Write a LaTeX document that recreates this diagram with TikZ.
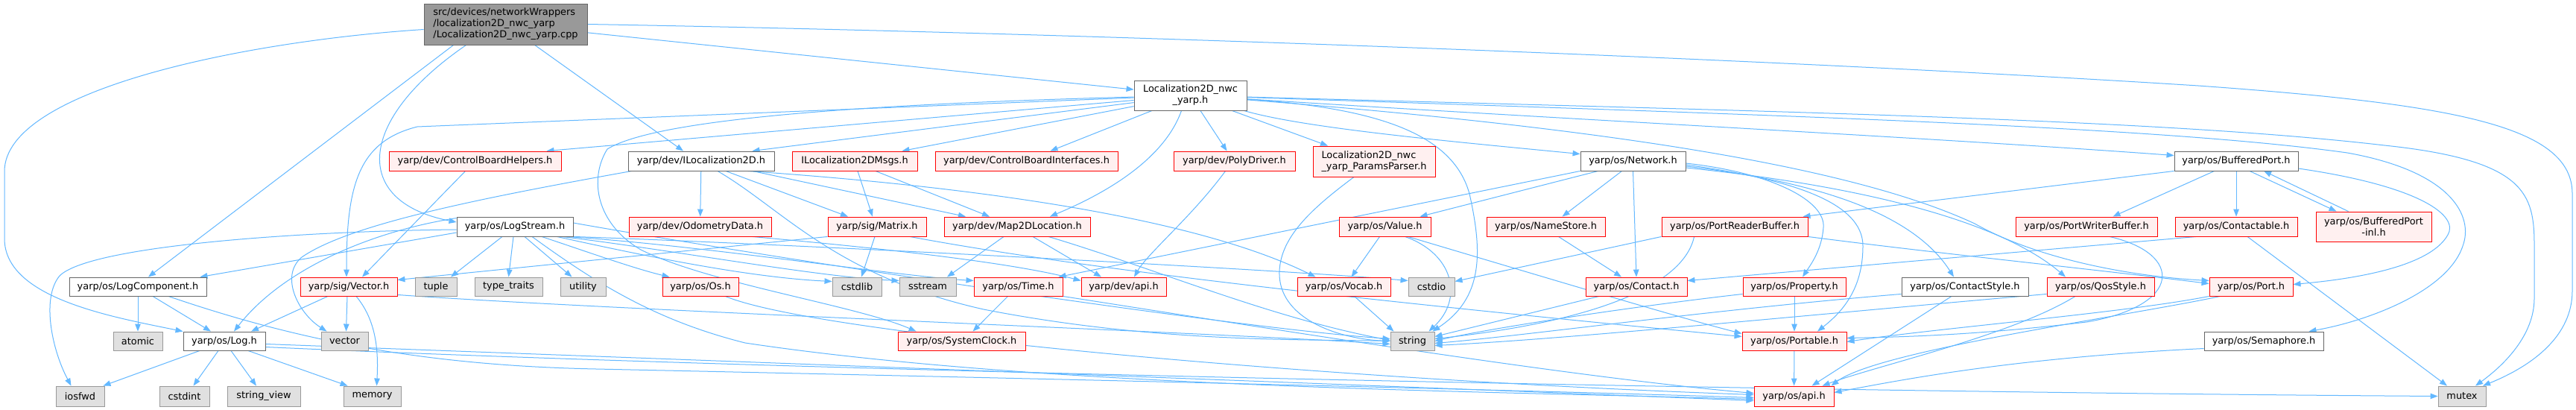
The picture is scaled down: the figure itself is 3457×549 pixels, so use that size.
\documentclass[tikz,border=0pt]{standalone}
\usepackage{fontspec}
\setmainfont{DejaVu Sans}
\usetikzlibrary{arrows.meta}
\definecolor{eb}{HTML}{63B8FF}
\definecolor{redfill}{HTML}{FFF0F0}
\definecolor{grayfill}{HTML}{E0E0E0}
\definecolor{graybd}{HTML}{999999}
\definecolor{darkbd}{HTML}{666666}
\definecolor{rootfill}{HTML}{999999}
\pgfdeclarelayer{back}
\pgfdeclarelayer{bg}
\pgfsetlayers{back,bg,main}
\newcommand{\bx}[7]{\node[#1,minimum width={#5pt-#4pt},minimum height={#7pt-#6pt}] (#2) at ({(#4+#5)/2},{(#6+#7)/2}) {#3};}
\begin{document}
\begin{tikzpicture}[x=1pt,y=-1pt,
 nb/.style={draw, inner sep=0pt, line width=0.9pt, font=\fontsize{12.9}{15}\selectfont, align=center, text=black},
 wn/.style={nb, fill=white, draw=darkbd},
 rn/.style={nb, fill=redfill, draw=red},
 gn/.style={nb, fill=grayfill, draw=graybd},
 rootn/.style={nb, fill=rootfill, draw=darkbd, align=left},
 edg/.style={draw=eb, line width=1pt, -{Triangle[length=10pt,width=7.5pt]}}]
\begin{pgfonlayer}{back}
\fill[white] (0,0) rectangle (3457,549);
\end{pgfonlayer}
\useasboundingbox (0,0) rectangle (3457,549);
% nodes
\bx{rootn}{src}{src/devices/networkWrappers\\/localization2D\_nwc\_yarp\\/Localization2D\_nwc\_yarp.cpp}{569}{788}{5}{60}
\bx{wn}{L2Dh}{Localization2D\_nwc\\\_yarp.h}{1522}{1673}{108}{148}
\bx{rn}{CBH}{yarp/dev/ControlBoardHelpers.h}{522}{753}{203}{229}
\bx{wn}{IL2D}{yarp/dev/ILocalization2D.h}{843}{1039}{203}{229}
\bx{rn}{IL2DMsgs}{ILocalization2DMsgs.h}{1063}{1231}{203}{229}
\bx{rn}{CBI}{yarp/dev/ControlBoardInterfaces.h}{1255}{1500}{203}{229}
\bx{rn}{Poly}{yarp/dev/PolyDriver.h}{1575}{1738}{203}{229}
\node[rn,align=left,minimum width=164pt,minimum height=41pt] (Params) at (1844,216.5) {Localization2D\_nwc\\\_yarp\_ParamsParser.h};
\bx{wn}{Network}{yarp/os/Network.h}{2121}{2262}{203}{229}
\bx{wn}{BufPort}{yarp/os/BufferedPort.h}{2918}{3084}{203}{229}
\bx{wn}{LogStream}{yarp/os/LogStream.h}{613}{769}{291}{317}
\bx{rn}{Odom}{yarp/dev/OdometryData.h}{844}{1035}{291}{317}
\bx{rn}{Matrix}{yarp/sig/Matrix.h}{1111}{1243}{291}{317}
\bx{rn}{Map2D}{yarp/dev/Map2DLocation.h}{1267}{1463}{291}{317}
\bx{rn}{Value}{yarp/os/Value.h}{1797}{1920}{291}{317}
\bx{rn}{NameStore}{yarp/os/NameStore.h}{1995}{2154}{291}{317}
\bx{rn}{PRB}{yarp/os/PortReaderBuffer.h}{2230}{2426}{291}{317}
\bx{rn}{PWB}{yarp/os/PortWriterBuffer.h}{2705}{2895}{291}{317}
\bx{rn}{Contactable}{yarp/os/Contactable.h}{2919}{3083}{291}{317}
\bx{rn}{BPinl}{yarp/os/BufferedPort\\-inl.h}{3108}{3263}{284}{324}
\bx{wn}{LogComp}{yarp/os/LogComponent.h}{93}{277}{372}{397}
\bx{rn}{Vector}{yarp/sig/Vector.h}{403}{533}{372}{397}
\bx{gn}{tuple}{tuple}{557}{613}{372}{397}
\bx{gn}{typetraits}{type\_traits}{637}{728}{372}{397}
\bx{gn}{utility}{utility}{752}{813}{372}{397}
\bx{rn}{Os}{yarp/os/Os.h}{889}{991}{372}{397}
\bx{gn}{cstdlib}{cstdlib}{1117}{1183}{372}{397}
\bx{gn}{sstream}{sstream}{1207}{1283}{372}{397}
\bx{rn}{Time}{yarp/os/Time.h}{1307}{1426}{372}{397}
\bx{rn}{devapi}{yarp/dev/api.h}{1451}{1565}{372}{397}
\bx{rn}{Vocab}{yarp/os/Vocab.h}{1741}{1866}{372}{397}
\bx{gn}{cstdio}{cstdio}{1890}{1952}{372}{397}
\bx{rn}{Contact}{yarp/os/Contact.h}{2128}{2264}{372}{397}
\bx{rn}{Property}{yarp/os/Property.h}{2339}{2477}{372}{397}
\bx{wn}{ContactStyle}{yarp/os/ContactStyle.h}{2552}{2722}{372}{397}
\bx{rn}{QosStyle}{yarp/os/QosStyle.h}{2747}{2891}{372}{397}
\bx{rn}{Port}{yarp/os/Port.h}{2965}{3077}{372}{397}
\bx{gn}{atomic}{atomic}{152}{218}{445}{470}
\bx{wn}{Log}{yarp/os/Log.h}{246}{356}{445}{470}
\bx{gn}{vector}{vector}{431}{494}{445}{470}
\bx{rn}{SysClock}{yarp/os/SystemClock.h}{1205}{1376}{445}{470}
\bx{gn}{string}{string}{1866}{1925}{445}{470}
\bx{rn}{Portable}{yarp/os/Portable.h}{2338}{2478}{445}{470}
\bx{wn}{Semaphore}{yarp/os/Semaphore.h}{2958}{3118}{445}{470}
\bx{gn}{iosfwd}{iosfwd}{75}{140}{518}{545}
\bx{gn}{cstdint}{cstdint}{214}{281}{518}{545}
\bx{gn}{strview}{string\_view}{305}{403}{518}{545}
\bx{gn}{memory}{memory}{461}{538}{518}{545}
\bx{rn}{osapi}{yarp/os/api.h}{2354}{2461}{518}{545}
\bx{gn}{mutex}{mutex}{3272}{3336}{518}{545}
\begin{pgfonlayer}{bg}
% edges from src
\draw[edg] (src) -- (L2Dh);
\draw[edg] (src) -- ([xshift=-24pt]IL2D.north);
\draw[edg] ([xshift=40pt]src.south west) -- ([xshift=14pt]LogComp.north);
\draw[edg] ([yshift=-7pt]src.west) .. controls (330,55) and (6,120) .. (6,230) -- (6,320) .. controls (6,400) and (150,425) .. (Log.north west);
\draw[edg] ([xshift=57pt]src.south west) .. controls (480,160) and (470,270) .. ([yshift=6pt]LogStream.west);
\draw[edg] (src.east) .. controls (1500,45) and (2400,80) .. (2950,115) .. controls (3300,140) and (3452,170) .. (3452,260) -- (3452,390) .. controls (3452,450) and (3400,490) .. ([xshift=28pt]mutex.north);
% edges from Localization2D_nwc_yarp.h
\draw[edg] (L2Dh) -- ([xshift=-20pt]CBH.north east);
\draw[edg] (L2Dh) -- ([xshift=-30pt]IL2D.north east);
\draw[edg] (L2Dh) -- ([xshift=-21pt]IL2DMsgs.north east);
\draw[edg] (L2Dh) -- ([xshift=32pt]CBI.north);
\draw[edg] (L2Dh) -- ([xshift=-10pt]Poly.north);
\draw[edg] ([xshift=-12pt]L2Dh.south) .. controls (1560,220) and (1470,265) .. ([xshift=44pt]Map2D.north);
\draw[edg] (L2Dh) -- ([xshift=-62pt]Params.north);
\draw[edg] ([xshift=-4pt]L2Dh.south east) .. controls (1750,172) and (1950,190) .. ([yshift=-4pt]Network.north west);
\draw[edg] (L2Dh) .. controls (2100,160) and (2600,185) .. ([yshift=-6pt]BufPort.north west);
\draw[edg] (L2Dh) .. controls (1850,145) and (1950,180) .. (1972,260) .. controls (1990,340) and (1990,400) .. ([xshift=-3pt]string.north east);
\draw[edg] (L2Dh) .. controls (2400,150) and (2900,160) .. (3200,195) .. controls (3390,215) and (3401,260) .. (3401,330) -- (3401,400) .. controls (3401,450) and (3360,490) .. ([xshift=18pt]mutex.north);
\draw[edg] (L2Dh) .. controls (2400,155) and (2900,170) .. (3150,205) .. controls (3290,230) and (3320,290) .. (3305,330) .. controls (3285,390) and (3180,430) .. ([xshift=-20pt]Semaphore.north east);
\draw[edg] (L2Dh) .. controls (2200,175) and (2500,230) .. (2650,300) .. controls (2730,345) and (2850,370) .. ([yshift=8pt]Port.west);
\draw[edg] (L2Dh) .. controls (1150,140) and (880,160) .. (815,200) .. controls (790,240) and (800,300) .. (860,335) .. controls (950,380) and (1150,410) .. ([xshift=25pt]SysClock.north west);
\draw[edg] (L2Dh) -- (560,170) .. controls (480,190) and (465,250) .. ([xshift=-3pt]Vector.north);
% CBH
\draw[edg] ([xshift=103pt]CBH.south west) -- ([xshift=18pt]Vector.north);
% IL2D
\draw[edg] (IL2D) -- (Odom);
\draw[edg] ([xshift=33pt]IL2D.south) -- ([xshift=-39pt]Matrix.north);
\draw[edg] ([xshift=69pt]IL2D.south) -- ([xshift=-69pt]Map2D.north);
\draw[edg] ([xshift=62pt]IL2D.south) .. controls (1300,250) and (1600,290) .. ([xshift=-38pt]Vocab.north);
\draw[edg] ([xshift=5pt]IL2D.south west) .. controls (650,265) and (470,300) .. (405,345) .. controls (375,370) and (400,420) .. ([xshift=8pt]vector.north west);
\draw[edg] ([xshift=22pt]IL2D.south) .. controls (1050,280) and (1120,370) .. (1320,415) .. controls (1550,460) and (1750,455) .. (string.west);
% IL2DMsgs
\draw[edg] ([xshift=4pt]IL2DMsgs.south) -- ([xshift=-6pt]Matrix.north);
\draw[edg] ([xshift=28pt]IL2DMsgs.south) -- ([xshift=-37pt]Map2D.north);
% Params
\draw[edg] ([xshift=-27pt]Params.south) .. controls (1760,280) and (1715,320) .. (1717,370) .. controls (1720,430) and (1800,455) .. (string.west);
% Network
\draw[edg] (Network.south west) -- ([xshift=-6pt]Time.north east);
\draw[edg] ([xshift=24pt]Network.south west) -- ([xshift=-15pt]Value.north east);
\draw[edg] ([xshift=-15pt]Network.south) -- ([xshift=22pt]NameStore.north);
\draw[edg] (Network.south) -- (Contact.north);
\draw[edg] ([yshift=-3pt]Network.east) .. controls (2380,232) and (2450,270) .. (2447,305) .. controls (2445,335) and (2430,355) .. ([xshift=11pt]Property.north);
\draw[edg] ([yshift=-5pt]Network.east) .. controls (2400,240) and (2500,270) .. (2500,330) .. controls (2500,390) and (2470,420) .. ([xshift=31pt]Portable.north);
\draw[edg] ([yshift=-7pt]Network.east) .. controls (2450,245) and (2570,290) .. ([xshift=-15pt]ContactStyle.north);
\draw[edg] ([yshift=-9pt]Network.east) .. controls (2550,255) and (2700,310) .. ([xshift=-47pt]QosStyle.north);
% BufferedPort
\draw[edg] (BufPort.south west) -- ([xshift=-7pt]PRB.north east);
\draw[edg] ([xshift=54pt]BufPort.south west) -- ([xshift=-60pt]PWB.north east);
\draw[edg] (BufPort) -- (Contactable);
\draw[edg] ([xshift=18pt]BufPort.south) -- ([xshift=-50pt]BPinl.north);
\draw[edg] ([xshift=-34pt]BPinl.north) -- ([xshift=37pt]BufPort.south);
\draw[edg] ([yshift=-10pt]BufPort.east) .. controls (3250,250) and (3300,290) .. (3285,315) .. controls (3260,360) and (3150,375) .. ([yshift=3pt]Port.east);
% LogStream
\draw[edg] ([yshift=-2pt]LogStream.north west) .. controls (500,310) and (380,360) .. ([xshift=13pt]Log.north);
\draw[edg] ([yshift=-8pt]LogStream.west) -- ([xshift=-9pt]LogComp.north east);
\draw[edg] ([yshift=-4pt]LogStream.west) .. controls (400,310) and (120,330) .. (80,370) .. controls (55,400) and (70,470) .. ([xshift=-12pt]iosfwd.north);
\draw[edg] ([xshift=-17pt]LogStream.south) -- ([xshift=20pt]tuple.north);
\draw[edg] ([xshift=-2pt]LogStream.south) -- (typetraits.north);
\draw[edg] ([xshift=13pt]LogStream.south) -- ([xshift=-15pt]utility.north);
\draw[edg] ([xshift=36pt]LogStream.south) .. controls (780,335) and (850,360) .. ([xshift=10pt]Os.north west);
\draw[edg] ([xshift=-22pt]LogStream.south east) .. controls (850,340) and (1000,372) .. ([yshift=7pt]cstdlib.west);
\draw[edg] ([xshift=-15pt]LogStream.south east) .. controls (900,335) and (1100,372) .. ([yshift=8pt]sstream.west);
\draw[edg] ([xshift=-8pt]LogStream.south east) .. controls (950,330) and (1200,370) .. ([yshift=8pt]Time.west);
\draw[edg] (LogStream.south east) .. controls (1000,325) and (1700,360) .. ([yshift=8pt]cstdio.west);
\draw[edg] ([yshift=5pt]LogStream.east) .. controls (1000,340) and (1650,440) .. ([yshift=3pt]string.west);
\draw[edg] ([xshift=23pt]LogStream.south) .. controls (800,380) and (880,430) .. (1000,460) .. controls (1400,520) and (2000,525) .. ([yshift=-4pt]osapi.west);
% Odometry
\draw[edg] ([xshift=70pt]Odom.south) .. controls (1150,330) and (1350,350) .. ([yshift=8pt]devapi.west);
% Matrix
\draw[edg] (Matrix.south west) -- ([yshift=9pt]Vector.east);
\draw[edg] ([xshift=-3pt]Matrix.south) -- ([xshift=6pt]cstdlib.north);
\draw[edg] ([xshift=44pt]Matrix.south) .. controls (1450,360) and (1800,400) .. ([yshift=6pt]Portable.west);
% Map2DLocation
\draw[edg] ([xshift=-18pt]Map2D.south) -- ([xshift=26pt]sstream.north);
\draw[edg] ([xshift=21pt]Map2D.south) -- ([xshift=-30pt]devapi.north);
\draw[edg] ([xshift=42pt]Map2D.south) .. controls (1550,360) and (1700,425) .. ([yshift=1pt]string.west);
% PolyDriver
\draw[edg] ([xshift=-12pt]Poly.south) .. controls (1600,290) and (1540,340) .. ([xshift=14pt]devapi.north);
% Time
\draw[edg] ([xshift=-14pt]Time.south) -- ([xshift=15pt]SysClock.north);
\draw[edg] (Time.south east) .. controls (1700,440) and (2100,505) .. ([yshift=4pt]osapi.west);
% Os
\draw[edg] ([xshift=-18pt]Os.south east) .. controls (1100,450) and (1800,510) .. ([yshift=2pt]osapi.west);
% Value
\draw[edg] ([xshift=-7pt]Value.south) -- ([xshift=10pt]Vocab.north);
\draw[edg] ([xshift=27pt]Value.south) .. controls (1950,340) and (1965,400) .. ([xshift=-8pt]string.north east);
\draw[edg] ([xshift=31pt]Value.south) .. controls (2100,380) and (2250,425) .. ([yshift=10pt]Portable.west);
% NameStore
\draw[edg] ([xshift=17pt]NameStore.south) -- ([xshift=-20pt]Contact.north);
% PortReaderBuffer
\draw[edg] (PRB.south west) -- ([yshift=7pt]cstdio.east);
\draw[edg] ([xshift=44pt]PRB.south west) .. controls (2260,380) and (2150,430) .. ([yshift=3pt]string.east);
\draw[edg] (PRB.south east) .. controls (2600,340) and (2800,360) .. ([yshift=4pt]Port.west);
% PortWriterBuffer
\draw[edg] ([xshift=31pt]PWB.south) .. controls (2930,340) and (2930,410) .. (2800,432) .. controls (2650,450) and (2550,452) .. ([yshift=4pt]Portable.east);
% Contactable
\draw[edg] ([xshift=29pt]Contactable.south west) -- ([yshift=8pt]Contact.east);
\draw[edg] ([xshift=15pt]Contactable.south) -- ([xshift=-20pt]mutex.north);
% Vocab, Contact
\draw[edg] ([xshift=14pt]Vocab.south) -- ([xshift=-25pt]string.north);
\draw[edg] ([xshift=-50pt]Contact.south) -- ([yshift=6pt]string.east);
% Property
\draw[edg] (Property) -- (Portable);
\draw[edg] ([yshift=3pt]Property.south west) .. controls (2200,410) and (2000,440) .. (string.east);
% ContactStyle
\draw[edg] ([xshift=-18pt]ContactStyle.south) -- ([xshift=24pt]osapi.north);
\draw[edg] ([yshift=3pt]ContactStyle.south west) .. controls (2300,415) and (2050,450) .. ([yshift=-3pt]string.east);
% QosStyle
\draw[edg] ([xshift=-34pt]QosStyle.south) .. controls (2700,450) and (2520,490) .. ([xshift=38pt]osapi.north);
\draw[edg] ([yshift=3pt]QosStyle.south west) .. controls (2400,425) and (2100,455) .. ([yshift=-6pt]string.east);
% Port
\draw[edg] (Port.south west) .. controls (2850,420) and (2600,440) .. ([yshift=-1pt]Portable.east);
\draw[edg] ([xshift=15pt]Port.south west) .. controls (2850,425) and (2520,470) .. ([xshift=-4pt]osapi.north east);
% Semaphore
\draw[edg] ([yshift=-10pt]Semaphore.west) .. controls (2700,480) and (2550,510) .. ([yshift=5pt]osapi.east);
% Portable
\draw[edg] (Portable) -- (osapi);
% LogComponent
\draw[edg] (LogComp) -- (atomic);
\draw[edg] ([xshift=20pt]LogComp.south) -- ([xshift=-18pt]Log.north);
\draw[edg] ([xshift=41pt]LogComp.south) .. controls (380,450) and (550,490) .. (800,495) .. controls (1500,510) and (2100,525) .. ([yshift=-2pt]osapi.west);
% Vector
\draw[edg] ([xshift=-28pt]Vector.south) -- ([xshift=36pt]Log.north);
\draw[edg] ([xshift=-2pt]Vector.south) -- ([xshift=2pt]vector.north);
\draw[edg] ([xshift=10pt]Vector.south) .. controls (505,430) and (508,470) .. ([xshift=6pt]memory.north);
\draw[edg] ([yshift=2pt]Vector.south east) .. controls (800,415) and (1600,445) .. ([yshift=-4pt]string.west);
% Log
\draw[edg] ([xshift=-33pt]Log.south) -- ([xshift=-2pt]iosfwd.north east);
\draw[edg] ([xshift=-8pt]Log.south) -- ([xshift=12pt]cstdint.north);
\draw[edg] ([xshift=9pt]Log.south) -- ([xshift=-10pt]strview.north);
\draw[edg] ([xshift=32pt]Log.south) -- ([xshift=6pt]memory.north west);
\draw[edg] ([yshift=-4pt]Log.east) .. controls (800,478) and (1800,515) .. ([yshift=-6pt]osapi.west);
\draw[edg] ([yshift=-8pt]Log.east) .. controls (1000,495) and (2300,525) .. (mutex.west);
\end{pgfonlayer}
\end{tikzpicture}
\end{document}
